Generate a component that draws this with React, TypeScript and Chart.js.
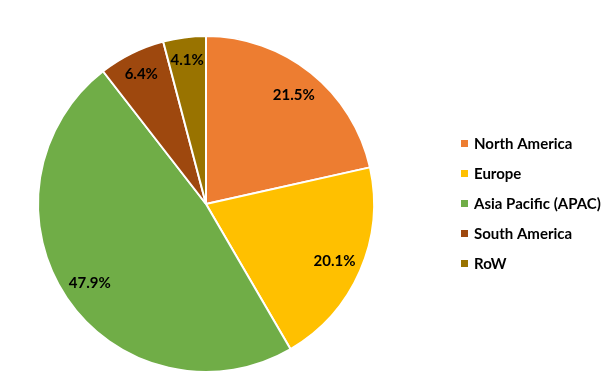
import React, { useEffect, useRef } from "react";
import { Chart, registerables } from "chart.js";

Chart.register(...registerables);

const regions = ["North America", "Europe", "Asia Pacific (APAC)", "South America", "RoW"];
const shares = [21.5, 20.1, 47.9, 6.4, 4.1];
const colors = ["#ED7D31", "#FFC000", "#70AD47", "#9E480E", "#997300"];

const FONT = "bold 15px Lato, 'Open Sans', sans-serif";

const labelPlugin = {
  id: "sliceLabels",
  afterDatasetsDraw(chart: any) {
    const ctx = chart.ctx;
    const meta = chart.getDatasetMeta(0);
    ctx.save();
    ctx.font = FONT;
    ctx.fillStyle = "#000";
    ctx.textAlign = "center";
    ctx.textBaseline = "middle";
    meta.data.forEach((arc: any, i: number) => {
      const { x, y, startAngle, endAngle, outerRadius } = arc.getProps(
        ["x", "y", "startAngle", "endAngle", "outerRadius"],
        true
      );
      const mid = (startAngle + endAngle) / 2;
      const f = shares[i] < 8 ? 0.87 : 0.835;
      const r = outerRadius * f;
      ctx.fillText(shares[i].toFixed(1) + "%", x + Math.cos(mid) * r, y + 1 + Math.sin(mid) * r);
    });
    ctx.restore();
  },
};

const legendPlugin = {
  id: "sideLegend",
  afterDraw(chart: any) {
    const ctx = chart.ctx;
    ctx.save();
    ctx.font = FONT;
    ctx.textAlign = "left";
    ctx.textBaseline = "middle";
    regions.forEach((name, i) => {
      const cy = 144 + i * 30;
      ctx.fillStyle = colors[i];
      ctx.fillRect(461, cy - 4, 7, 7);
      ctx.fillStyle = "#000";
      ctx.fillText(name, 474, cy);
    });
    ctx.restore();
  },
};

export default function App() {
  const ref = useRef<HTMLCanvasElement>(null);
  useEffect(() => {
    if (!ref.current) return;
    const chart = new Chart(ref.current, {
      type: "pie",
      data: {
        labels: regions,
        datasets: [
          {
            data: shares,
            backgroundColor: colors,
            borderColor: "#FFFFFF",
            borderWidth: 2,
          },
        ],
      },
      options: {
        responsive: false,
        animation: false,
        layout: { padding: { left: 37, top: 35, right: 235, bottom: 18 } },
        plugins: {
          legend: { display: false },
          tooltip: { enabled: false },
        },
      },
      plugins: [labelPlugin, legendPlugin],
    });
    return () => chart.destroy();
  }, []);
  return (
    <div style={{ position: "fixed", left: 0, top: 0, width: 610, height: 391, background: "#fff" }}>
      <canvas ref={ref} width={610} height={391} style={{ display: "block" }} />
    </div>
  );
}
